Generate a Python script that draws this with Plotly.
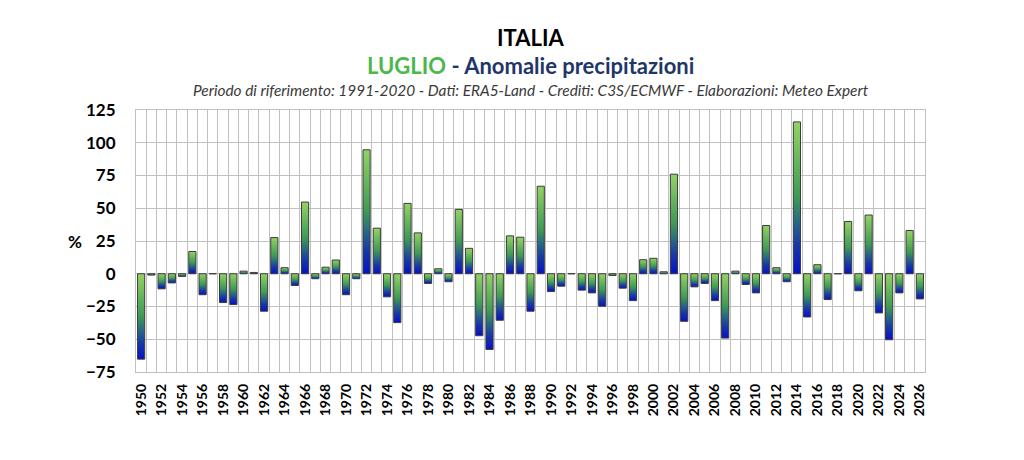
import plotly.graph_objects as go

# --- dati: anomalie precipitazioni di luglio in Italia (%) ---
years = list(range(1950, 2027))
anomalies = [
    -65.2, -1.0, -11.5, -7.0, -2.0, 17.0, -16.0, 0.5, -22.0, -23.5,   # 1950-1959
    2.0, 1.0, -28.6, 27.6, 4.6, -9.0, 54.7, -3.8, 5.0, 10.5,          # 1960-1969
    -16.0, -3.8, 94.6, 34.8, -17.6, -37.3, 53.7, 31.2, -7.4, 3.8,     # 1970-1979
    -6.1, 49.1, 19.4, -47.3, -57.8, -35.5, 28.9, 27.9, -28.6, 66.8,   # 1980-1989
    -13.6, -9.5, 0.5, -12.5, -14.6, -24.8, -1.3, -11.0, -20.5, 10.7,  # 1990-1999
    11.8, 1.5, 76.0, -36.3, -10.0, -7.4, -20.5, -49.1, 2.0, -8.2,     # 2000-2009
    -14.6, 36.8, 4.6, -6.1, 115.9, -33.0, 6.9, -19.7, 0.5, 39.9,      # 2010-2019
    -13.0, 44.8, -29.9, -50.4, -14.6, 33.0, -19.2,                    # 2020-2026
]
label_years = years[::2]
y_ticks = [-75, -50, -25, 0, 25, 50, 75, 100, 125]

# gradiente verticale delle barre: blu in basso, verde in alto
bar_scale = [
    [0.0, '#0610c8'],
    [0.18, '#1636aa'],
    [0.34, '#286884'],
    [0.5, '#3e9a55'],
    [1.0, '#93d363'],
]
half_w = 0.35
grid_col = '#c0c0c0'
x_range = [years[0] - 0.5, years[-1] + 0.5]

fig = go.Figure()

for yr, v in zip(years, anomalies):
    fig.add_trace(go.Scatter(
        x=[yr - half_w, yr + half_w, yr + half_w, yr - half_w, yr - half_w],
        y=[0, 0, v, v, 0],
        mode='lines',
        fill='toself',
        fillgradient=dict(type='vertical', colorscale=bar_scale),
        line=dict(color='#3c3c3c', width=1),
        showlegend=False,
        hoverinfo='skip',
    ))

# traccia invisibile sull'asse delle etichette (serve anche per l'hover)
fig.add_trace(go.Scatter(
    x=years, y=anomalies, xaxis='x2', yaxis='y',
    mode='markers', marker=dict(size=8, opacity=0),
    showlegend=False, hovertemplate='%{x}: %{y:.1f}%<extra></extra>',
))

fig.update_layout(
    width=1024, height=460,
    paper_bgcolor='white', plot_bgcolor='white',
    margin=dict(l=128, r=107, t=102, b=96),
    font=dict(family='Lato', color='#000000'),
    showlegend=False,
    xaxis=dict(
        range=x_range,
        tickmode='linear', tick0=x_range[0], dtick=1,
        showticklabels=False, ticks='',
        showgrid=True, gridcolor=grid_col, gridwidth=1, zeroline=False,
        showline=True, linecolor=grid_col, linewidth=1, mirror=True,
    ),
    xaxis2=dict(
        overlaying='x', anchor='y', side='bottom',
        range=x_range,
        tickmode='array', tickvals=label_years, ticktext=[str(y) for y in label_years],
        tickangle=-90, ticks='', ticklabelstandoff=8,
        tickfont=dict(family='Lato', size=14, weight='bold', color='#000000'),
        showgrid=False, zeroline=False, showline=False,
    ),
    yaxis=dict(
        range=[-75, 125],
        tickmode='array', tickvals=y_ticks,
        tickfont=dict(family='Lato', size=17, weight='bold', color='#000000'),
        showgrid=True, gridcolor=grid_col, gridwidth=1,
        zeroline=True, zerolinecolor=grid_col, zerolinewidth=1,
        showline=True, linecolor=grid_col, linewidth=1, mirror=True,
        ticks='', ticklabelstandoff=16,
    ),
)

# titoli
fig.add_annotation(
    text='<b>ITALIA</b>', xref='paper', yref='paper', x=0.5, y=1.0,
    xanchor='center', yanchor='middle', yshift=73,
    showarrow=False, font=dict(family='Lato', size=22, color='#000000'),
)
fig.add_annotation(
    text="<b><span style='color:#4cb84a'>LUGLIO</span> - Anomalie precipitazioni</b>",
    xref='paper', yref='paper', x=0.5, y=1.0,
    xanchor='center', yanchor='middle', yshift=45,
    showarrow=False, font=dict(family='Lato', size=22, color='#1f3668'),
)
fig.add_annotation(
    text='<i>Periodo di riferimento: 1991-2020 - Dati: ERA5-Land - Crediti: C3S/ECMWF - Elaborazioni: Meteo Expert</i>',
    xref='paper', yref='paper', x=0.5, y=1.0,
    xanchor='center', yanchor='middle', yshift=20,
    showarrow=False, font=dict(family='Lato', size=15.4, color='#3a3a3a'),
)
# etichetta asse y
fig.add_annotation(
    text='<b>%</b>', xref='paper', yref='paper', x=0, xshift=-61, y=0.5,
    xanchor='center', yanchor='middle',
    showarrow=False, font=dict(family='Lato', size=17, color='#000000'),
)

fig.write_html('out.html')
